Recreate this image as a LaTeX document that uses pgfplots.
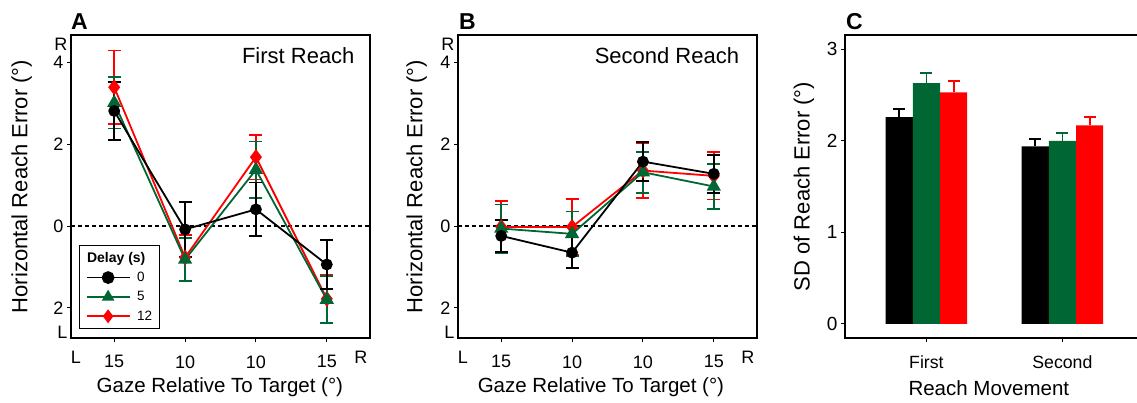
\documentclass[border=0pt]{standalone}
\usepackage{fontspec}
\setmainfont{Liberation Sans}
\usepackage{pgfplots}
\pgfplotsset{compat=1.18}

\definecolor{dgreen}{RGB}{0,102,51}
\definecolor{pred}{RGB}{255,0,0}

\newcommand{\fs}[1]{\fontsize{#1}{#1}\selectfont}

\tikzset{
  s0/.style={black, line width=1.8pt, mark=*, mark size=5pt, mark options={solid}},
  s5/.style={dgreen, line width=1.8pt, mark=triangle*, mark size=6.5pt, mark options={solid}},
  s12/.style={pred, line width=1.8pt, mark=diamond*, mark size=6.5pt, mark options={solid}},
  zero/.style={black, line width=1.4pt, dash pattern=on 4pt off 3pt},
}

\pgfplotsset{
  frame/.style={
    scale only axis, width=299pt, height=303pt,
    axis line style={line width=2.2pt},
    tick align=outside, tick pos=left,
    major tick length=4pt,
    tick style={line width=1pt, black},
    /pgf/number format/assume math mode=true,
  },
  gaze/.style={
    frame,
    xmin=0.39, xmax=4.61, ymin=-2.74, ymax=4.68,
    xtick={1,2,3,4}, xticklabels={15,10,10,15},
    ytick={-2,0,2,4}, yticklabels={2,0,2,4},
    extra x ticks={0.46,4.48}, extra x tick labels={L,R},
    extra y ticks={-2.59,4.45}, extra y tick labels={L,R},
    extra tick style={major tick length=0pt},
    tick label style={font=\fs{18}},
    xticklabel style={yshift=-10pt},
    xlabel={Gaze Relative To Target (°)},
    ylabel={Horizontal Reach Error (°)},
    xlabel style={font=\fs{20.5}, anchor=center},
    ylabel style={font=\fs{22}, anchor=center},
  },
  errs/.style={
    error bars/y dir=both, error bars/y explicit,
    error bars/error bar style={line width=1.8pt},
    error bars/error mark options={rotate=90, mark size=6.5pt, line width=1.8pt},
  },
}

% panel A: first reach
\pgfplotstableread{
x y e
1 2.82 0.71
2 -0.08 0.68
3 0.41 0.66
4 -0.94 0.60
}\firstzero
\pgfplotstableread{
x y e
1 3.02 0.63
2 -0.82 0.52
3 1.38 0.69
4 -1.80 0.58
}\firstfive
\pgfplotstableread{
x y e
1 3.40 0.90
2 -0.77 0.56
3 1.69 0.55
4 -1.78 0.58
}\firsttwelve

% panel B: second reach
\pgfplotstableread{
x y e
1 -0.24 0.39
2 -0.65 0.37
3 1.58 0.47
4 1.28 0.47
}\secondzero
\pgfplotstableread{
x y e
1 -0.06 0.59
2 -0.19 0.55
3 1.32 0.50
4 0.97 0.56
}\secondfive
\pgfplotstableread{
x y e
1 -0.02 0.63
2 -0.02 0.68
3 1.36 0.68
4 1.23 0.58
}\secondtwelve

\begin{document}
\begin{tikzpicture}
\useasboundingbox (0,0) rectangle (1137pt,402pt);

% ---- A ----
\begin{axis}[gaze, at={(71pt,64pt)}, anchor=south west,
  xlabel style={at={(axis description cs:0.498,-0.162)}},
  ylabel style={at={(axis description cs:-0.165,0.5)}},
  legend image code/.code={\draw[mark repeat=2,mark phase=2,#1] plot coordinates {(0pt,0pt) (21.5pt,0pt) (43pt,0pt)};},
  legend image post style={line width=1.8pt, mark size=5.5pt},
  legend style={at={(axis description cs:0.027,0.03)}, anchor=south west,
    draw=black, line width=1.3pt, font=\fs{13.5},
    cells={anchor=west}, nodes={inner sep=1.5pt},
    column sep=5pt, row sep=5.5pt, inner xsep=6pt, inner ysep=5pt},
]
\draw[zero] (axis cs:0.39,0) -- (axis cs:4.61,0);
\addlegendimage{empty legend}
\addlegendentry{\makebox[0pt][l]{\hspace{-50pt}\fs{14}\bfseries Delay (s)}}
\addlegendimage{s0}\addlegendentry{0}
\addlegendimage{s5}\addlegendentry{5}
\addlegendimage{s12}\addlegendentry{12}
\addplot[s12, errs, forget plot] table[x=x, y=y, y error=e] {\firsttwelve};
\addplot[s5, errs, forget plot] table[x=x, y=y, y error=e] {\firstfive};
\addplot[s0, errs, forget plot] table[x=x, y=y, y error=e] {\firstzero};
\node[anchor=east, font=\fs{22}] at (rel axis cs:0.96,0.931) {First Reach};
\end{axis}

% ---- B ----
\begin{axis}[gaze, at={(458pt,64pt)}, anchor=south west,
  xlabel style={at={(axis description cs:0.478,-0.162)}},
  ylabel style={at={(axis description cs:-0.138,0.5)}},
]
\draw[zero] (axis cs:0.39,0) -- (axis cs:4.61,0);
\addplot[s12, errs] table[x=x, y=y, y error=e] {\secondtwelve};
\addplot[s5, errs] table[x=x, y=y, y error=e] {\secondfive};
\addplot[s0, errs] table[x=x, y=y, y error=e] {\secondzero};
\node[anchor=east, font=\fs{22}] at (rel axis cs:0.952,0.931) {Second Reach};
\end{axis}

% ---- C ----
\begin{axis}[frame, at={(845pt,64pt)}, anchor=south west,
  xmin=0.4015, xmax=2.6, ymin=-0.153, ymax=3.156,
  ybar, bar width=0.2,
  xtick={1,2}, xticklabels={First,Second},
  ytick={0,1,2,3},
  yticklabel style={font=\fs{19}},
  xticklabel style={font=\fs{17.7}, yshift=-10pt},
  xlabel={Reach Movement},
  ylabel={SD of Reach Error (°)},
  xlabel style={font=\fs{20.5}, anchor=center, at={(axis description cs:0.481,-0.165)}},
  ylabel style={font=\fs{22}, anchor=center, at={(axis description cs:-0.137,0.5)}},
  error bars/y dir=plus, error bars/y explicit,
  error bars/error bar style={line width=1.8pt},
  error bars/error mark options={rotate=90, mark size=6pt, line width=1.8pt},
]
\addplot[fill=black, draw=none, bar shift=-0.2, error bars/error bar style={black}]
  coordinates {(1,2.26) +- (0,0.09) (2,1.94) +- (0,0.08)};
\addplot[fill=dgreen, draw=none, bar shift=0, error bars/error bar style={dgreen}]
  coordinates {(1,2.63) +- (0,0.11) (2,2.00) +- (0,0.09)};
\addplot[fill=pred, draw=none, bar shift=0.2, error bars/error bar style={pred}]
  coordinates {(1,2.53) +- (0,0.12) (2,2.17) +- (0,0.09)};
\end{axis}

\node[anchor=base west, inner sep=0pt, font=\fs{23}\bfseries] at (71pt,372pt) {A};
\node[anchor=base west, inner sep=0pt, font=\fs{23}\bfseries] at (459pt,372pt) {B};
\node[anchor=base west, inner sep=0pt, font=\fs{23}\bfseries] at (846pt,372pt) {C};
\end{tikzpicture}
\end{document}
